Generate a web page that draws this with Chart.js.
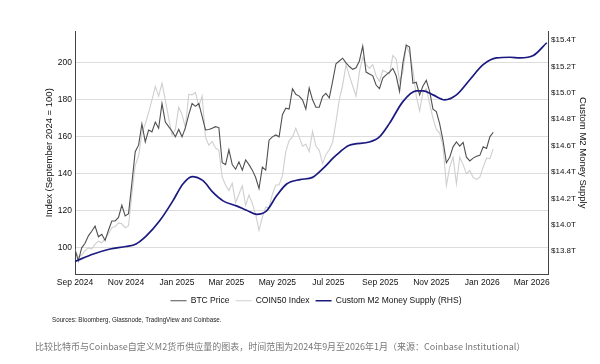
<!DOCTYPE html>
<html>
<head>
<meta charset="utf-8">
<script src="https://cdn.jsdelivr.net/npm/chart.js@4"></script>
<style>
  html, body { margin: 0; padding: 0; background: #fff; }
  #wrap { position: relative; width: 600px; height: 364px; }
  #note { position: absolute; left: 52px; top: 315px; font: 8px 'Liberation Sans', Arial, sans-serif; color: #222; white-space: nowrap; transform: scaleX(0.78); transform-origin: 0 0; }
  #caption { position: absolute; left: 35px; top: 340px; font: 9px 'Noto Sans CJK SC', 'Noto Sans', sans-serif; color: #777; white-space: nowrap; }
</style>
</head>
<body>
<div id="wrap">
  <canvas id="chart_btcM2" width="600" height="364"></canvas>
  <div id="note">Sources: Bloomberg, Glassnode, TradingView and Coinbase.</div>
  <div id="caption">比较比特币与Coinbase自定义M2货币供应量的图表，时间范围为2024年9月至2026年1月（来源：Coinbase Institutional）</div>
</div>
<script>
// ****************************************************************** //
// chart_btcM2 --- BTC, COIN50 vs. Custom M2 money supply             //
// ****************************************************************** //

const startDate = "2024-09-01";
const priceStepDays = 4; // BTC / COIN50 sampled every 4 days from startDate

// index, September 2024 = 100
const btcPrice = [
    99, 93, 100, 102.5, 106.5, 109, 111.8, 106, 107.3, 104,
    109.5, 114.5, 114.6, 116.4, 123, 117.3, 118.5, 135, 152, 155.5,
    167, 157.3, 163.7, 162.7, 168, 164.6, 178, 168, 165.5, 163,
    160, 164, 160, 165, 172, 178, 176.5, 178, 171, 163.7,
    164, 164.6, 165.5, 165, 146, 145, 153, 145, 142.5, 146.5,
    142, 147.5, 145, 142, 138, 132, 143.6, 142, 158.2, 160,
    161, 160, 172, 175.5, 175, 186, 183, 182, 180, 175,
    186.4, 180, 176, 176, 181.8, 183.5, 181, 190, 199.5, 201,
    202.5, 200, 198, 196.5, 197.3, 201, 209, 195, 194, 193,
    188, 186, 191.8, 193.5, 195, 197, 193, 184.6, 200, 209.6,
    208.5, 189, 189.5, 182.7, 187.5, 190.5, 184.6, 175, 173.7, 167,
    158, 146, 149, 154.6, 157.3, 155, 157, 149, 147, 148.5,
    149.5, 150, 154.6, 153.7, 160, 162.5,
];

const coin50Index = [
    99, 95, 96, 98.5, 100, 99.5, 102, 103.6, 102.7, 105,
    107.5, 110.9, 111.5, 113.5, 113, 110.9, 112, 129, 144.6, 149.5,
    162, 167, 173, 180, 187.3, 182, 189, 180, 170, 161,
    164, 176, 172, 165, 183, 182.7, 184, 176.4, 182, 160,
    155.5, 157.5, 154, 152.7, 138.2, 134, 131, 135, 124.5, 129,
    133.5, 123, 128.5, 124, 118, 109.5, 116.5, 122, 121.8, 129,
    134, 134, 139, 152, 158, 160, 164.6, 160, 155, 156,
    152, 163, 155, 152.7, 145.5, 150.5, 153, 157, 168, 180,
    188, 199, 193, 187.5, 182, 195, 203, 199, 197, 199,
    193, 190, 196, 195, 194, 204, 202, 190, 195, 209.5,
    205, 196.4, 182, 174, 184, 186, 178, 170, 164, 162,
    155, 133.6, 143.6, 149, 134.6, 149, 145, 140, 141.8, 138,
    137, 138.2, 143.6, 148.5, 148.2, 153.5,
];

// Custom M2, trillions USD (right axis)
const m2Dates = [
    "2024-09-01", "2024-09-23", "2024-10-13", "2024-11-01", "2024-11-13",
    "2024-11-25", "2024-12-11", "2024-12-27", "2025-01-08", "2025-01-19",
    "2025-02-01", "2025-02-13", "2025-02-25", "2025-03-13", "2025-03-25",
    "2025-04-06", "2025-04-18", "2025-04-30", "2025-05-12", "2025-05-28",
    "2025-06-12", "2025-06-24", "2025-07-10", "2025-07-26", "2025-08-19",
    "2025-08-31", "2025-09-12", "2025-09-28", "2025-10-14", "2025-10-22",
    "2025-11-03", "2025-11-17", "2025-12-01", "2025-12-17", "2026-01-02",
    "2026-01-18", "2026-02-03", "2026-02-15", "2026-03-03", "2026-03-19",
];
const m2Supply = [
    13.723, 13.779, 13.817, 13.836, 13.856,
    13.915, 14.029, 14.182, 14.310, 14.366,
    14.335, 14.246, 14.182, 14.144, 14.111,
    14.080, 14.106, 14.220, 14.310, 14.343,
    14.360, 14.424, 14.526, 14.603, 14.628,
    14.666, 14.769, 14.934, 15.015, 15.015,
    14.985, 14.947, 14.985, 15.100, 15.214,
    15.265, 15.270, 15.265, 15.283, 15.380,
];

const tickDates = [
    "2024-09-01", "2024-11-01", "2025-01-01", "2025-03-01", "2025-05-01",
    "2025-07-01", "2025-09-01", "2025-11-01", "2026-01-01", "2026-03-01",
];
const tickLabels = [
    "Sep 2024", "Nov 2024", "Jan 2025", "Mar 2025", "May 2025",
    "Jul 2025", "Sep 2025", "Nov 2025", "Jan 2026", "Mar 2026",
];
const leftTicks = [100, 120, 140, 160, 180, 200];
const rightTicks = [13.8, 14.0, 14.2, 14.4, 14.6, 14.8, 15.0, 15.2, 15.4];

// days since startDate
const dayOf = (s) => {
    const [y, m, d] = s.split("-").map(Number);
    const [y0, m0, d0] = startDate.split("-").map(Number);
    return (Date.UTC(y, m - 1, d) - Date.UTC(y0, m0 - 1, d0)) / 86400000;
};

const tickDays = tickDates.map(dayOf);
const FONT = "'Liberation Sans', Arial, sans-serif";

const ctx = document.getElementById("chart_btcM2").getContext("2d");
const chart_btcM2 = new Chart(ctx, {
    type: "line",
    data: {
        datasets: [
            {
                label: "BTC Price",
                data: btcPrice.map((v, i) => ({ x: i * priceStepDays, y: v })),
                borderColor: "#505050",
                backgroundColor: "#505050",
                borderWidth: 1.1,
                pointRadius: 0,
                tension: 0,
                yAxisID: "y",
                order: 2,
            },
            {
                label: "COIN50 Index",
                data: coin50Index.map((v, i) => ({ x: i * priceStepDays, y: v })),
                borderColor: "#cfcfcf",
                backgroundColor: "#cfcfcf",
                borderWidth: 1.1,
                pointRadius: 0,
                tension: 0,
                yAxisID: "y",
                order: 3,
            },
            {
                label: "Custom M2 Money Supply (RHS)",
                data: m2Supply.map((v, i) => ({ x: dayOf(m2Dates[i]), y: v })),
                borderColor: "#1a1a80",
                backgroundColor: "#1a1a80",
                borderWidth: 1.7,
                pointRadius: 0,
                cubicInterpolationMode: "monotone",
                yAxisID: "y2",
                order: 1,
            },
        ],
    },
    options: {
        responsive: false,
        animation: false,
        layout: { padding: { top: 31, left: 44, right: 12, bottom: 49 } },
        plugins: {
            tooltip: { enabled: false },
            legend: {
                position: "bottom",
                labels: {
                    usePointStyle: true,
                    pointStyle: "line",
                    pointStyleWidth: 16,
                    padding: 6,
                    color: "#111",
                    font: { family: FONT, size: 8.5 },
                    sort: (a, b) => a.datasetIndex - b.datasetIndex,
                },
            },
        },
        scales: {
            x: {
                type: "linear",
                min: 0,
                max: 565.5,
                afterBuildTicks: (s) => { s.ticks = tickDays.map((v) => ({ value: v })); },
                afterFit: (s) => { s.height = 16; },
                grid: { display: false, drawTicks: false },
                border: { display: true, color: "#444", width: 1 },
                ticks: {
                    autoSkip: false,
                    maxRotation: 0,
                    padding: 3,
                    color: "#111",
                    font: { family: FONT, size: 8.5 },
                    callback: (v) => tickLabels[tickDays.indexOf(v)],
                },
            },
            y: {
                position: "left",
                min: 85.6,
                max: 217.2,
                afterBuildTicks: (s) => { s.ticks = leftTicks.map((v) => ({ value: v })); },
                afterFit: (s) => { s.width = 31; },
                grid: { color: "#dddddd", lineWidth: 1, drawTicks: false },
                border: { display: true, color: "#444", width: 1 },
                ticks: { padding: 3, color: "#111", font: { family: FONT, size: 8.5 } },
                title: {
                    display: true,
                    text: "Index (September 2024 = 100)",
                    color: "#111",
                    padding: 0,
                    font: { family: FONT, size: 9.5 },
                },
            },
            y2: {
                position: "right",
                min: 13.624,
                max: 15.469,
                afterBuildTicks: (s) => { s.ticks = rightTicks.map((v) => ({ value: v })); },
                afterFit: (s) => { s.width = 40; },
                grid: { drawOnChartArea: false, drawTicks: false },
                border: { display: true, color: "#444", width: 1 },
                ticks: {
                    padding: 3,
                    color: "#111",
                    font: { family: FONT, size: 8 },
                    callback: (v) => "$" + v.toFixed(1) + "T",
                },
                title: {
                    display: true,
                    text: "Custom M2 Money Supply",
                    color: "#111",
                    padding: 0,
                    font: { family: FONT, size: 9.5 },
                },
            },
        },
    },
});
</script>
</body>
</html>
